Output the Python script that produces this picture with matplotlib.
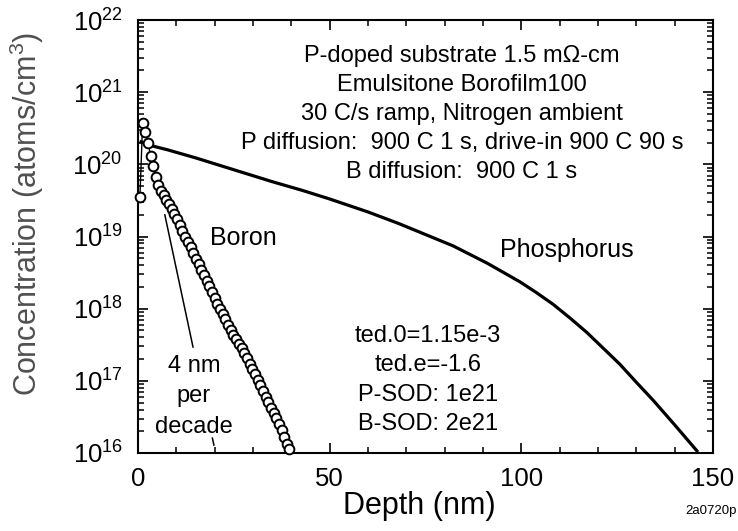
import numpy as np
import matplotlib
matplotlib.use("Agg")
import matplotlib.pyplot as plt
from matplotlib.ticker import MultipleLocator, LogLocator, LogFormatterSciNotation, NullFormatter

plt.rcParams["font.family"] = ["Liberation Sans", "DejaVu Sans"]
plt.rcParams["mathtext.fontset"] = "custom"
plt.rcParams["mathtext.rm"] = "Liberation Sans"
plt.rcParams["mathtext.it"] = "Liberation Sans:italic"
plt.rcParams["mathtext.bf"] = "Liberation Sans:bold"

# Phosphorus profile (depth in nm, log10 of concentration in atoms/cm^3)
p_depth = [0.8, 2.6, 7.8, 15.0, 25.3, 35.0, 42.8, 50.0, 60.0, 68.0, 76.7, 82.2,
           91.1, 99.7, 104.0, 108.3, 112.7, 117.1, 121.4, 125.7, 130.0, 134.4,
           140.0, 145.8]
p_log10 = [20.31, 20.27, 20.20, 20.09, 19.92, 19.76, 19.64, 19.52, 19.34, 19.18,
           18.99, 18.87, 18.63, 18.37, 18.22, 18.06, 17.87, 17.67, 17.45, 17.23,
           16.98, 16.73, 16.39, 16.03]

# Boron profile (depth in nm, log10 of concentration in atoms/cm^3)
b_depth = [0.5, 1.2, 1.9, 2.6, 3.3, 3.9, 4.6, 5.3, 6.0, 6.7, 7.4, 8.1, 8.8, 9.5,
           10.2, 10.9, 11.6, 12.3, 13.0, 13.7, 14.4, 15.1, 15.8, 16.5, 17.2, 17.9,
           18.6, 19.3, 20.0, 20.7, 21.4, 22.1, 22.8, 23.5, 24.2, 24.9, 25.6, 26.3,
           27.0, 27.7, 28.4, 29.1, 29.8, 30.5, 31.2, 31.9, 32.6, 33.3, 34.0, 34.7,
           35.4, 36.1, 36.8, 37.5, 38.2, 38.9, 39.3]
b_log10 = [19.55, 20.57, 20.45, 20.30, 20.12, 19.97, 19.83, 19.72, 19.63, 19.57, 19.51,
           19.45, 19.38, 19.31, 19.24, 19.16, 19.08, 19.00, 18.92, 18.85, 18.77, 18.69,
           18.62, 18.54, 18.46, 18.39, 18.31, 18.23, 18.15, 18.07, 18.00, 17.92, 17.85,
           17.77, 17.70, 17.64, 17.58, 17.51, 17.45, 17.38, 17.32, 17.24, 17.17, 17.09,
           17.01, 16.94, 16.86, 16.78, 16.71, 16.63, 16.55, 16.48, 16.40, 16.32, 16.22,
           16.12, 16.05]

x_ticks = [0, 50, 100, 150]
conditions = ["P-doped substrate 1.5 m\u03a9-cm",
              "Emulsitone Borofilm100",
              "30 C/s ramp, Nitrogen ambient",
              "P diffusion:  900 C 1 s, drive-in 900 C 90 s",
              "B diffusion:  900 C 1 s"]
model_params = ["ted.0=1.15e-3", "ted.e=-1.6", "P-SOD: 1e21", "B-SOD: 2e21"]
slope_note = ["4 nm", "per", "decade"]

fig = plt.figure(figsize=(7.38, 5.31), dpi=100)
ax = fig.add_axes([138 / 738, 1 - 453 / 531, 575 / 738, 433 / 531])

ax.plot(p_depth, 10.0 ** np.array(p_log10), color="black", lw=2.3,
        solid_joinstyle="round")
ax.plot(b_depth, 10.0 ** np.array(b_log10), color="black", lw=1.0, marker="o",
        ms=7.0, mfc="white", mec="black", mew=1.4, clip_on=False, zorder=3)

ax.set_yscale("log")
ax.set_xlim(0, 150)
ax.set_ylim(1e16, 1e22)
ax.set_xticks(x_ticks)
ax.xaxis.set_minor_locator(MultipleLocator(10))
ax.yaxis.set_major_locator(LogLocator(base=10, numticks=10))
ax.yaxis.set_minor_locator(LogLocator(base=10, subs=np.arange(2, 10), numticks=20))
ax.yaxis.set_major_formatter(LogFormatterSciNotation())
ax.yaxis.set_minor_formatter(NullFormatter())

for s in ax.spines.values():
    s.set_linewidth(1.5)
ax.tick_params(which="both", direction="in", top=True, right=True, labelsize=18.5)
ax.tick_params(which="major", length=7.5, width=1.2)
ax.tick_params(which="minor", length=4.5, width=1.1)
ax.tick_params(axis="y", which="major", pad=11)
ax.tick_params(axis="x", which="major", pad=10)

ax.set_xlabel("Depth (nm)", fontsize=22, va="center")
ax.xaxis.set_label_coords(0.490, -0.122)
ax.set_ylabel("Concentration (atoms/cm$^3$)", fontsize=22, color="#505050", va="center")
ax.yaxis.set_label_coords(-0.193, 0.552)

# Slope guide next to the boron profile, interrupted behind its caption
x0, y0, x1, y1 = 7.0, 19.30, 19.8, 16.11
for t_a, t_b in [(0.0, 0.574), (0.970, 1.0)]:
    xs = [x0 + (x1 - x0) * t_a, x0 + (x1 - x0) * t_b]
    ys = [10 ** (y0 + (y1 - y0) * t_a), 10 ** (y0 + (y1 - y0) * t_b)]
    ax.plot(xs, ys, color="black", lw=1.1)

for txt, yb in zip(slope_note, [0.187, 0.118, 0.046]):
    ax.text(0.097, yb, txt, transform=ax.transAxes, ha="center", va="baseline", fontsize=17)

for txt, yb in zip(conditions, [0.903, 0.836, 0.769, 0.702, 0.635]):
    ax.text(0.5635, yb, txt, transform=ax.transAxes, ha="center", va="baseline", fontsize=17)

for txt, yb in zip(model_params, [0.256, 0.189, 0.120, 0.053]):
    ax.text(0.504, yb, txt, transform=ax.transAxes, ha="center", va="baseline", fontsize=17)

ax.text(0.184, 0.480, "Boron", transform=ax.transAxes, ha="center", va="baseline", fontsize=18)
ax.text(0.746, 0.453, "Phosphorus", transform=ax.transAxes, ha="center", va="baseline", fontsize=18)

fig.text(737 / 738, 1 - 514 / 531, "2a0720p", ha="right", va="baseline", fontsize=9.5)

fig.savefig("out.png", dpi=100)
